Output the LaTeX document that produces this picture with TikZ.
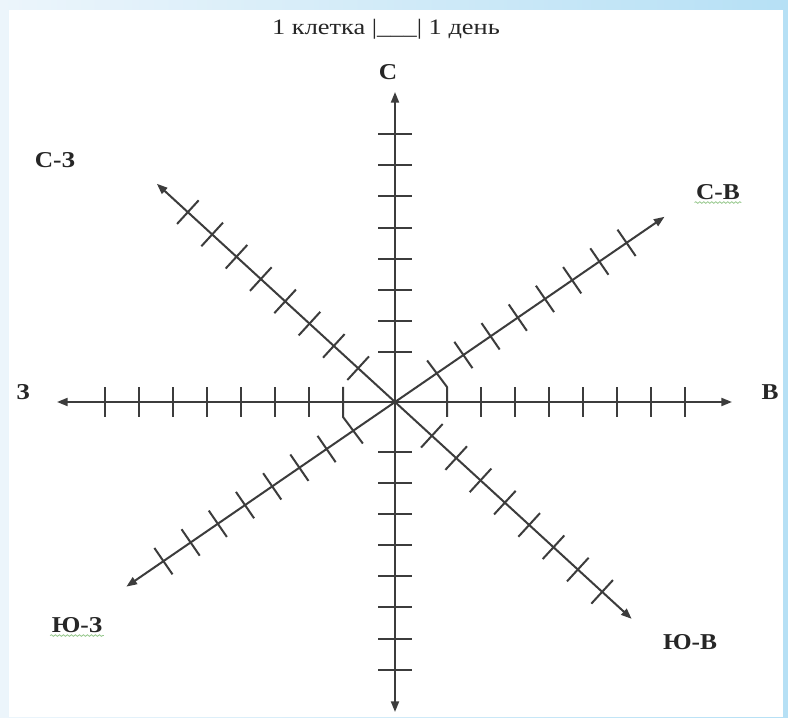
\documentclass[tikz,border=0pt]{standalone}
\usepackage{graphicx}
\usepackage{fontspec}
\setmainfont{Liberation Serif}
\usetikzlibrary{arrows.meta,calc,decorations.pathmorphing}
\definecolor{ax}{RGB}{60,60,60}
\definecolor{bgA}{RGB}{236,245,251}
\definecolor{bgB}{RGB}{182,224,245}
\definecolor{spell}{RGB}{150,200,140}
\begin{document}
\begin{tikzpicture}[x=0.75pt,y=0.75pt,
  axis/.style={draw=ax, line width=1.5pt, -{Triangle[length=8pt,width=6pt]}},
  tick/.style={draw=ax, line width=1.5pt, line join=round},
  lab/.style={font=\fontsize{17}{19}\selectfont\bfseries, text=black!85, inner sep=1pt},
  ttl/.style={font=\fontsize{16.5}{18}\selectfont, text=black!85, inner sep=1pt},
  squig/.style={draw=spell, line width=0.6pt, decorate, decoration={snake, amplitude=0.6pt, segment length=3pt}}]
\useasboundingbox (0,0) rectangle (788,717);
\shade[left color=bgA, right color=bgB] (0,0) rectangle (788,717);
\fill[white] (9,0) rectangle (783,707);

\coordinate (O) at (395,315);
\coordinate (N) at ($(O)+(0,310)$);
\coordinate (S) at ($(O)+(0,-310)$);
\coordinate (E) at ($(O)+(337,0)$);
\coordinate (W) at ($(O)+(-338,0)$);
\coordinate (NE) at ($(O)+(34.5:327)$);
\coordinate (SW) at ($(O)+(214.5:326)$);
\coordinate (NW) at ($(O)+(137.5:323)$);
\coordinate (SE) at ($(O)+(-42.5:321)$);

\foreach \t in {N,S,E,W,NE,SW,NW,SE} \draw[axis] (O) -- (\t);

% horizontal axis ticks
\foreach \k in {1,...,7} {
  \pgfmathsetmacro{\d}{52+34*\k}
  \draw[tick] ($(O)+(\d,-15)$) -- ($(O)+(\d,15)$);
  \draw[tick] ($(O)+(-\d,-15)$) -- ($(O)+(-\d,15)$);
}
% vertical axis ticks
\foreach \k in {0,...,7} {
  \pgfmathsetmacro{\d}{50+31.1*\k}
  \draw[tick] ($(O)+(-17,\d)$) -- ($(O)+(17,\d)$);
  \draw[tick] ($(O)+(-17,-\d)$) -- ($(O)+(17,-\d)$);
}
% diagonal ticks
\foreach \a/\s in {34.5/1,214.5/1,137.5/0,-42.5/0} {
  \foreach \k in {\s,...,7} {
    \pgfmathsetmacro{\d}{50+33*\k}
    \pgfmathsetmacro{\pa}{\a+90}
    \pgfmathsetmacro{\pb}{\a-90}
    \draw[tick] ($(O)+(\a:\d)+(\pa:16)$) -- ($(O)+(\a:\d)+(\pb:16)$);
  }
}
% bent ticks near the centre
\draw[tick] ($(O)+(34.5:50)+(124.5:16)$) -- ($(O)+(52,15)$) -- ($(O)+(52,-15)$);
\draw[tick] ($(O)+(-52,15)$) -- ($(O)+(-52,-15)$) -- ($(O)+(214.5:50)+(-55.5:16)$);

% labels
\node[ttl] (title) at (386,688) {\scalebox{1.2}[1]{1 клетка |\_\_\_| 1 день}};
\node[lab] (lN) at (388,645) {\scalebox{1.12}[1]{С}};
\node[lab] (lNW) at (55,557) {\scalebox{1.12}[1]{С-З}};
\node[lab] (lNE) at (718,525) {\scalebox{1.12}[1]{С-В}};
\node[lab] (lW) at (23,325) {\scalebox{1.12}[1]{З}};
\node[lab] (lE) at (770,325) {\scalebox{1.12}[1]{В}};
\node[lab] (lSW) at (77,92) {\scalebox{1.12}[1]{Ю-З}};
\node[lab] (lSE) at (690,75) {\scalebox{1.12}[1]{Ю-В}};
\draw[squig] ([yshift=-1pt]lNE.south west) -- ([yshift=-1pt]lNE.south east);
\draw[squig] ([yshift=-1pt]lSW.south west) -- ([yshift=-1pt]lSW.south east);
\end{tikzpicture}
\end{document}
